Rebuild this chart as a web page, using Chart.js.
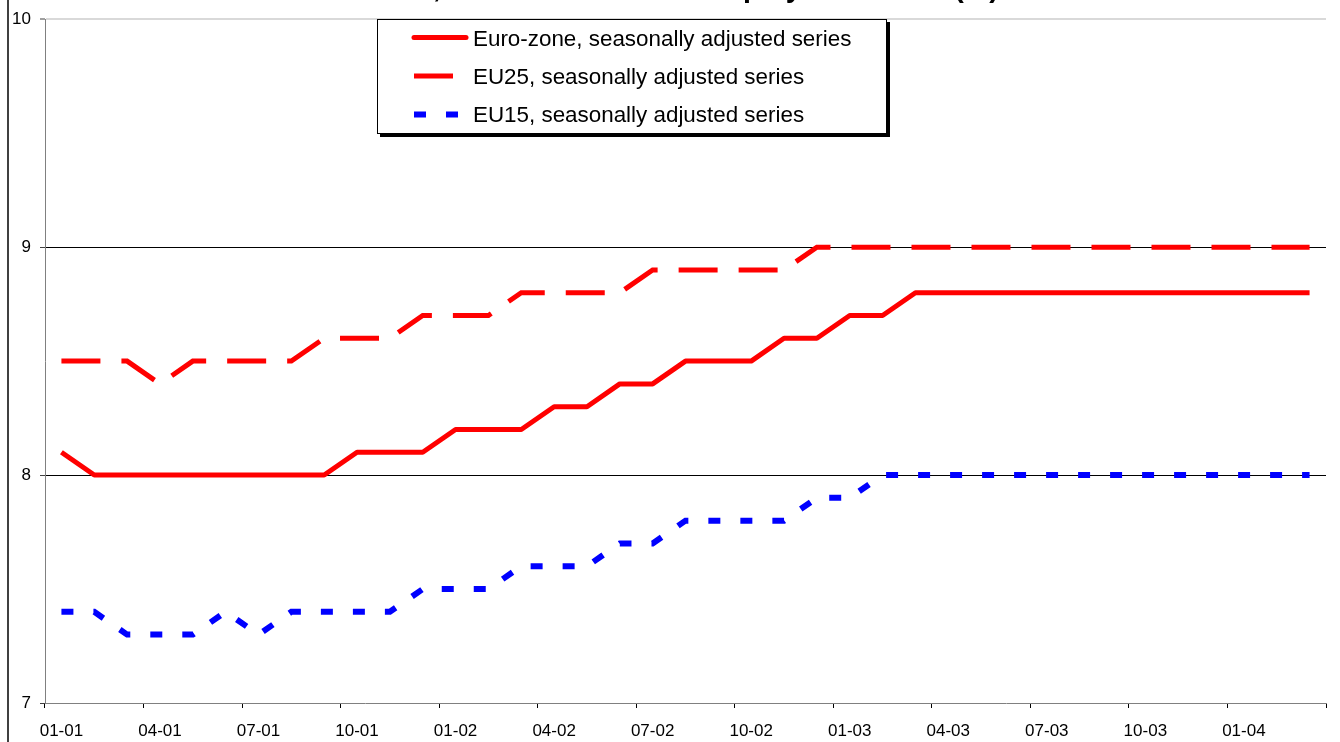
<!DOCTYPE html>
<html><head><meta charset="utf-8">
<script src="https://cdn.jsdelivr.net/npm/chart.js@4/dist/chart.umd.min.js"></script>
<style>
html,body{margin:0;padding:0;background:#fff;overflow:hidden}
#wrap{position:relative;width:1340px;height:742px}
#frame{position:absolute;left:7px;top:0;width:2px;height:742px;background:#404040}
canvas{position:absolute;left:0;top:0}
</style></head><body>
<div id="wrap"><canvas id="c" width="1340" height="742"></canvas><div id="frame"></div></div>
<script>
const categories = ['01-01','02-01','03-01','04-01','05-01','06-01','07-01','08-01','09-01','10-01','11-01','12-01',
  '01-02','02-02','03-02','04-02','05-02','06-02','07-02','08-02','09-02','10-02','11-02','12-02',
  '01-03','02-03','03-03','04-03','05-03','06-03','07-03','08-03','09-03','10-03','11-03','12-03',
  '01-04','02-04','03-04'];
const xTickLabels = ['01-01','04-01','07-01','10-01','01-02','04-02','07-02','10-02','01-03','04-03','07-03','10-03','01-04'];
const yTicks = [7, 8, 9, 10];
const euroZone = [8.1,8.0,8.0,8.0,8.0,8.0,8.0,8.0,8.0,8.1,8.1,8.1,
  8.2,8.2,8.2,8.3,8.3,8.4,8.4,8.5,8.5,8.5,8.6,8.6,
  8.7,8.7,8.8,8.8,8.8,8.8,8.8,8.8,8.8,8.8,8.8,8.8,
  8.8,8.8,8.8];
const eu25 = [8.5,8.5,8.5,8.4,8.5,8.5,8.5,8.5,8.6,8.6,8.6,8.7,
  8.7,8.7,8.8,8.8,8.8,8.8,8.9,8.9,8.9,8.9,8.9,9.0,
  9.0,9.0,9.0,9.0,9.0,9.0,9.0,9.0,9.0,9.0,9.0,9.0,
  9.0,9.0,9.0];
const eu15 = [7.4,7.4,7.3,7.3,7.3,7.4,7.3,7.4,7.4,7.4,7.4,7.5,
  7.5,7.5,7.6,7.6,7.6,7.7,7.7,7.8,7.8,7.8,7.8,7.9,
  7.9,8.0,8.0,8.0,8.0,8.0,8.0,8.0,8.0,8.0,8.0,8.0,
  8.0,8.0,8.0];
const seriesNames = ['Euro-zone, seasonally adjusted series','EU25, seasonally adjusted series','EU15, seasonally adjusted series'];
const titleText = 'Euro-zone, EU25 and EU15 unemployment rates (%)';

const FONT = '"Liberation Sans", Arial, Helvetica, sans-serif';
Chart.defaults.font.family = FONT;
Chart.defaults.color = '#000';

const cutTitle = {
  id: 'cutTitle',
  afterDraw(chart) {
    const ctx = chart.ctx;
    ctx.save();
    ctx.font = 'bold 28.6px ' + FONT;
    ctx.fillStyle = '#000';
    ctx.textAlign = 'center';
    ctx.textBaseline = 'alphabetic';
    ctx.fillText(titleText, 646, -3);
    ctx.restore();
  }
};

const boxLegend = {
  id: 'boxLegend',
  afterDraw(chart) {
    const ctx = chart.ctx;
    const L = {x: 377, y: 19, w: 510, h: 115};
    ctx.save();
    ctx.fillStyle = '#000';
    ctx.fillRect(L.x + 3, L.y + 3, L.w, L.h);
    ctx.fillStyle = '#fff';
    ctx.fillRect(L.x, L.y, L.w, L.h);
    ctx.strokeStyle = '#000';
    ctx.lineWidth = 1;
    ctx.strokeRect(L.x + 0.5, L.y + 0.5, L.w - 1, L.h - 1);
    chart.data.datasets.forEach((ds, i) => {
      const ly = 37.5 + i * 38.5;
      ctx.beginPath();
      ctx.strokeStyle = ds.borderColor;
      ctx.lineWidth = ds.borderWidth;
      ctx.setLineDash(ds.borderDash || []);
      ctx.lineCap = (ds.borderDash && ds.borderDash.length) ? 'butt' : 'round';
      ctx.moveTo(414, ly);
      ctx.lineTo(466, ly);
      ctx.stroke();
      ctx.setLineDash([]);
      ctx.fillStyle = '#000';
      ctx.font = '22.4px ' + FONT;
      ctx.textAlign = 'left';
      ctx.textBaseline = 'middle';
      ctx.fillText(ds.label, 473, 39.5 + i * 38);
    });
    ctx.restore();
  }
};

new Chart(document.getElementById('c'), {
  type: 'line',
  data: {
    labels: categories,
    datasets: [
      {label: seriesNames[0], data: euroZone, borderColor: '#ff0000', borderWidth: 5, pointRadius: 0, tension: 0, borderJoinStyle: 'round'},
      {label: seriesNames[1], data: eu25, borderColor: '#ff0000', borderWidth: 5, borderDash: [39, 21], pointRadius: 0, tension: 0},
      {label: seriesNames[2], data: eu15, borderColor: '#0000ff', borderWidth: 6, borderDash: [12, 20], pointRadius: 0, tension: 0}
    ]
  },
  options: {
    responsive: false,
    animation: false,
    devicePixelRatio: 1,
    layout: {padding: {left: 0, top: 18, right: 14, bottom: 0}},
    plugins: {legend: {display: false}, title: {display: false}, tooltip: {enabled: false}},
    scales: {
      x: {
        type: 'category',
        offset: true,
        grid: {
          offset: true, drawOnChartArea: false, drawTicks: true, tickLength: 5, tickWidth: 1,
          tickColor: c => (c.index === undefined || c.index % 3 === 0) ? '#000' : 'rgba(0,0,0,0)'
        },
        border: {display: true, color: '#808080', width: 1},
        ticks: {
          autoSkip: false, maxRotation: 0, minRotation: 0, padding: 13, color: '#000',
          font: {size: 17},
          callback: (v, i) => xTickLabels.includes(categories[i]) ? categories[i] : ''
        },
        afterFit: s => { s.height = 39; }
      },
      y: {
        min: yTicks[0], max: yTicks[yTicks.length - 1],
        afterBuildTicks: s => { s.ticks = yTicks.map(v => ({value: v})); },
        ticks: {padding: 9, color: '#000', font: {size: 17}},
        grid: {
          color: c => (c.tick && c.tick.value === 10) ? '#d9d9d9' : ((c.tick && c.tick.value === 7) ? 'rgba(0,0,0,0)' : '#000'),
          lineWidth: c => (c.tick && c.tick.value === 10) ? 2 : 1,
          tickColor: '#404040', tickLength: 5, tickWidth: 1
        },
        border: {display: true, color: '#808080', width: 1},
        afterFit: s => { s.width = 45; }
      }
    }
  },
  plugins: [cutTitle, boxLegend]
});
</script>
</body></html>
